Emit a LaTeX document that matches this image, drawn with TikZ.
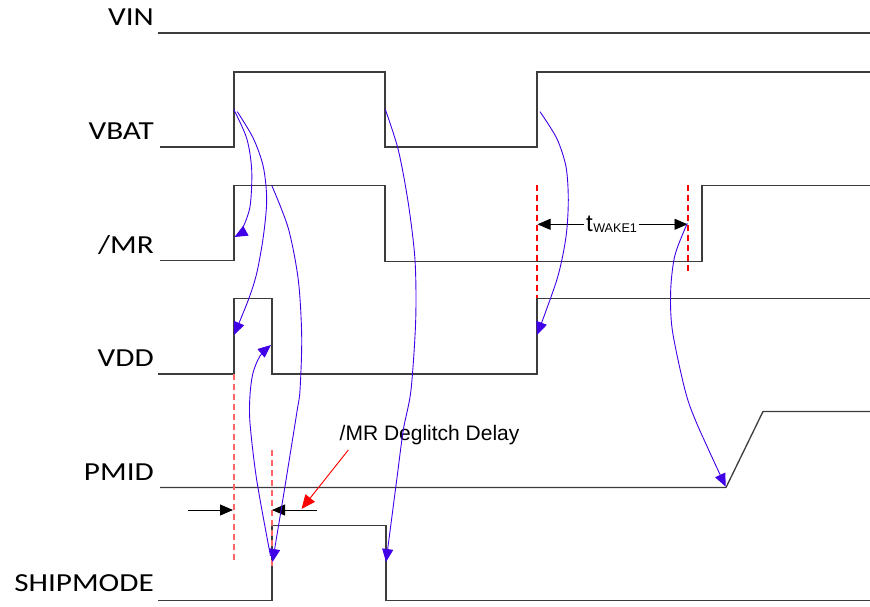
\documentclass[tikz,border=0pt]{standalone}
\usepackage{fontspec}
\setmainfont{Liberation Sans}
\newfontfamily\lblfont{Carlito}
\usetikzlibrary{arrows.meta}
\definecolor{arrblue}{RGB}{64,0,232}
\definecolor{siggray}{RGB}{60,60,60}
\definecolor{markred}{RGB}{255,0,0}
\definecolor{marklight}{RGB}{255,100,100}
\tikzset{
  sig/.style={draw=siggray,line width=1.3pt,line join=miter},
  cause/.style={draw=arrblue,line width=0.9pt,-{Triangle[length=13pt,width=11pt]}},
  marker/.style={draw=markred,line width=1.6pt,dash pattern=on 6pt off 4pt},
  markerlight/.style={draw=marklight,line width=1.8pt,dash pattern=on 6pt off 4pt},
  dim/.style={draw=black,line width=0.9pt,-{Triangle[length=13pt,width=11pt]}},
  redarr/.style={draw=markred,line width=0.9pt,-{Triangle[length=14pt,width=12pt]},fill=markred},
  siglabel/.style={anchor=base east,inner sep=0pt,font=\lblfont\fontsize{26}{30}\selectfont},
}
\newcommand\stretchlbl[1]{\scalebox{1.2}[1]{#1}}
\begin{document}
\begin{tikzpicture}[x=1pt,y=-1pt]
\useasboundingbox (0,0) rectangle (870,606);
% labels
\node[siglabel] (lvin) at (154,25.5) {\stretchlbl{VIN}};
\node[siglabel] (lvbat) at (154,139.5) {\stretchlbl{VBAT}};
\node[siglabel] (lmr) at (154,253) {\stretchlbl{/MR}};
\node[siglabel] (lvdd) at (154,366.5) {\stretchlbl{VDD}};
\node[siglabel] (lpmid) at (154,480) {\stretchlbl{PMID}};
\node[siglabel] (lship) at (154,591) {\stretchlbl{SHIPMODE}};
% signals
\draw[sig] (158,33)--(870,33);
\draw[sig] (160,147)--(234,147)--(234,72)--(385,72)--(385,147)--(537,147)--(537,72)--(870,72);
\draw[sig] (160,260.5)--(234,260.5)--(234,185.5)--(385,185.5)--(385,261.5)--(702,261.5)--(702,185.5)--(870,185.5);
\draw[sig] (158,374)--(234,374)--(234,298.5)--(272,298.5)--(272,374)--(537,374)--(537,298.5)--(870,298.5);
\draw[sig] (160,487.5)--(726,487.5)--(763,411.5)--(870,411.5);
\draw[sig] (158,600.5)--(272,600.5)--(272,525.5)--(386,525.5)--(386,600.5)--(870,600.5);
% red dashed markers
\draw[markerlight] (234,374)--(234,562);
\draw[markerlight] (272,450)--(272,567);
\draw[marker] (537,185)--(537,298);
\draw[marker] (688,185)--(688,273);
% tWAKE1
\node[anchor=base,inner xsep=1.5pt,inner ysep=0pt] (tw) at (611.5,231.7)
  {\fontsize{24}{26}\selectfont t\hspace{0.5pt}\raisebox{-0.5pt}{\fontsize{12.6}{14}\selectfont WAKE1}};
\coordinate (wl) at (537.5,224.3);
\coordinate (wr) at (687.5,224.3);
\draw[dim] (tw.west|-wl) -- (wl);
\draw[dim] (tw.east|-wr) -- (wr);
% deglitch
\node[anchor=base west,inner sep=0pt,font=\fontsize{21}{24}\selectfont] (dg) at (339.5,440) {/MR Deglitch Delay};
\coordinate (dl0) at (188,510);
\coordinate (dl1) at (233,510);
\coordinate (dr0) at (317,510);
\coordinate (dr1) at (272,510);
\draw[dim] (dl0) -- (dl1);
\draw[dim] (dr0) -- (dr1);
\coordinate (rtip) at (301.5,509);
\draw[redarr] (348.3,450) -- (rtip);
% cause arrows
\draw[cause] plot[smooth,tension=0.5] coordinates {(233.7,109.3) (246.7,138.3) (251.7,170) (250,206.7) (241.7,230) (234.5,237)};
\draw[cause] plot[smooth,tension=0.5] coordinates {(237.3,111.7) (253.3,138.3) (263.3,166.7) (266.7,200) (263.3,236.7) (256.7,273.3) (248.3,300) (234,335)};
\draw[cause] plot[smooth,tension=0.5] coordinates {(271.7,185.3) (288.3,228.3) (298.3,280) (301.7,336.7) (300,390) (296.7,413.3) (283.3,496.7) (272.5,562)};
\draw[cause] plot[smooth,tension=0.5] coordinates {(270.5,556) (256.7,480) (250,423) (250,395) (253,373) (260,356) (271,345)};
\draw[cause] plot[smooth,tension=0.5] coordinates {(385.3,109.3) (398.3,150) (408.3,203.3) (415,260) (415.7,320) (411,390) (403.3,430) (396.7,480) (386,562)};
\draw[cause] plot[smooth,tension=0.5] coordinates {(540,111.7) (556.7,138.3) (566,166.7) (568.3,200) (566,236.7) (557.3,278.3) (537,335)};
\draw[cause] plot[smooth,tension=0.5] coordinates {(687.3,223.3) (675,255) (670.7,290) (672.3,330) (685,390) (696.7,423.3) (725.7,486.7)};
\end{tikzpicture}
\end{document}
